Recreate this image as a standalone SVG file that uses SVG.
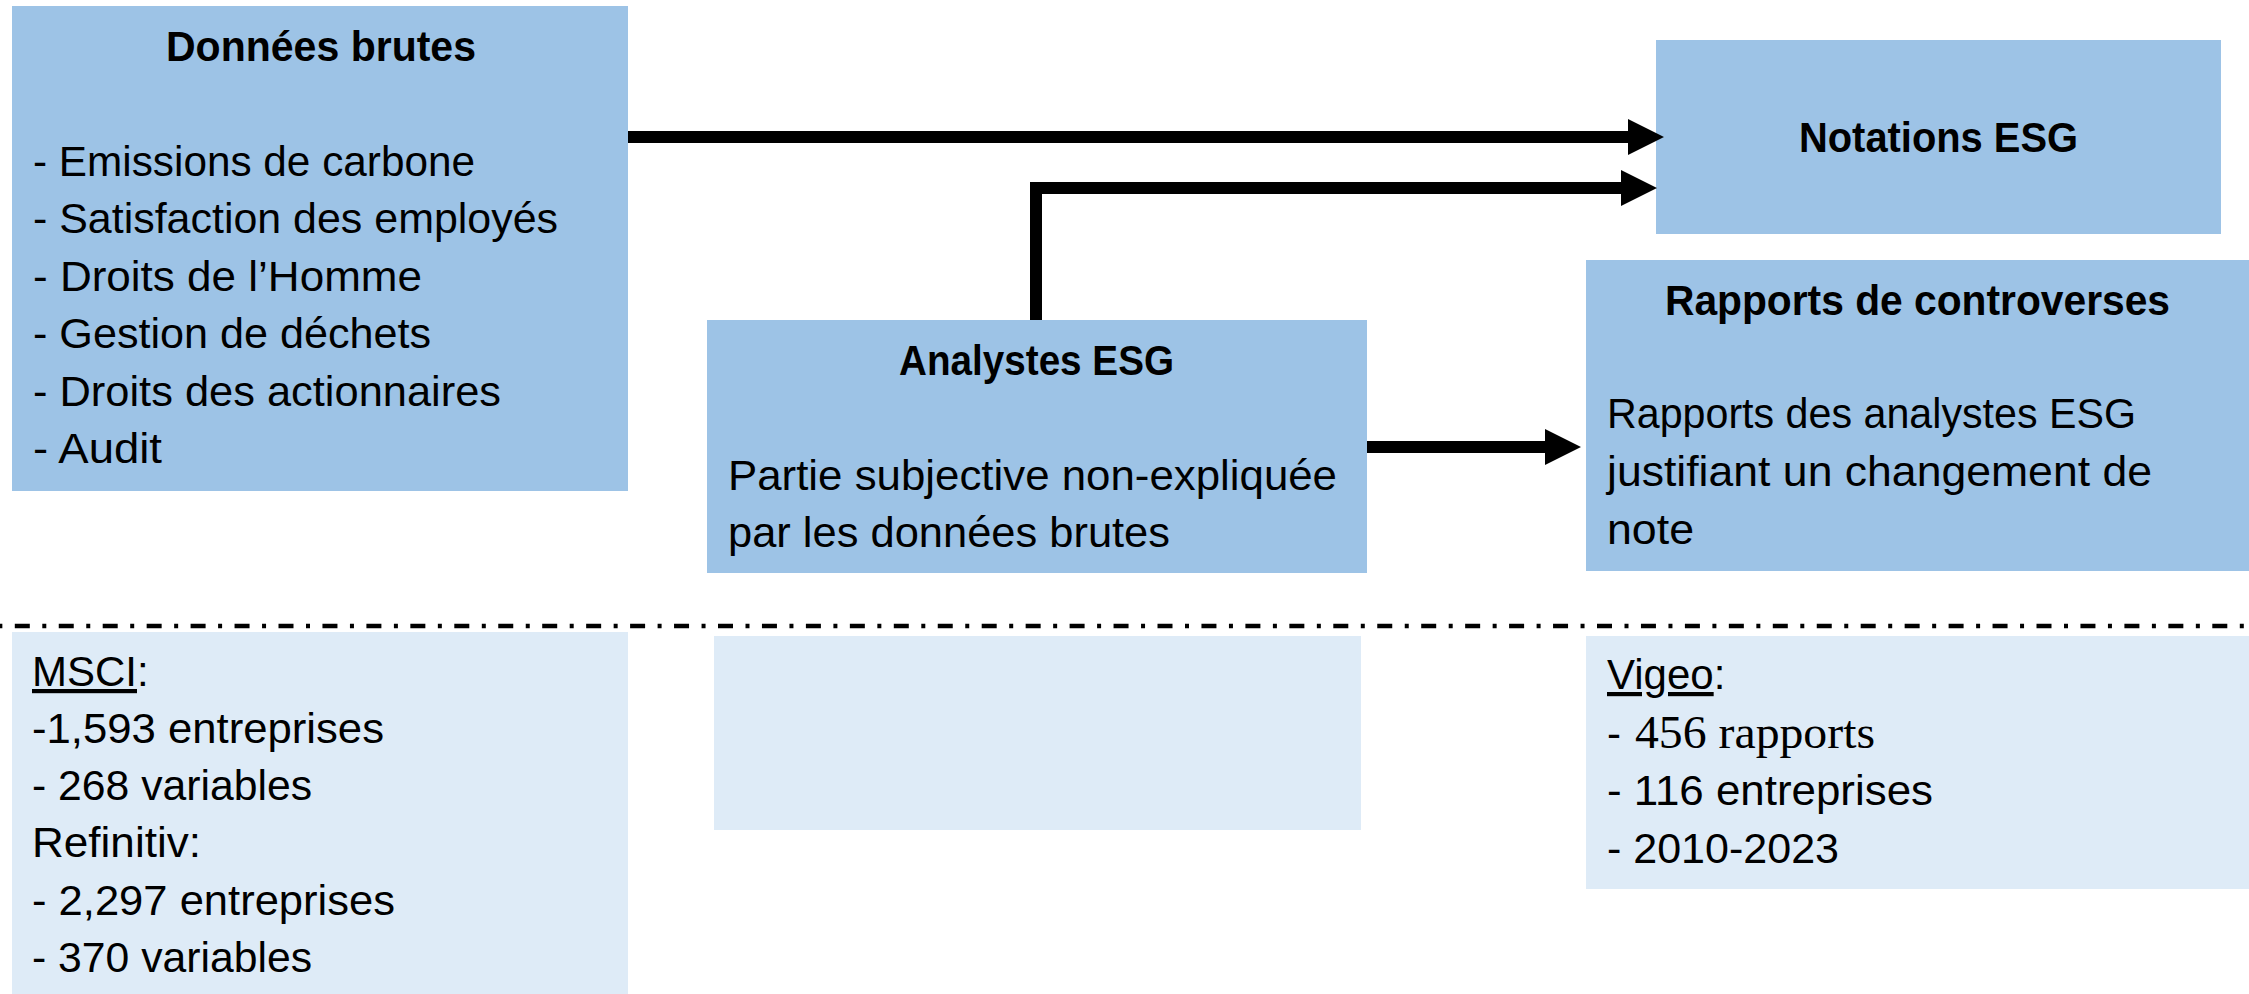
<svg xmlns="http://www.w3.org/2000/svg" width="2249" height="994" viewBox="0 0 2249 994">
  <style>
    .box { fill: #9DC3E6; }
    .box-light { fill: #DEEBF7; }
    text { font-family: "Liberation Sans", Arial, sans-serif; font-size: 42px; fill: #000; }
    .title { font-weight: bold; text-anchor: middle; }
    .serif { font-family: "Liberation Serif", "Times New Roman", serif; font-size: 46px; }
    .conn { fill: none; stroke: #000; stroke-width: 12; stroke-linejoin: miter; stroke-linecap: butt; marker-end: url(#head); }
    .sep { stroke: #000; stroke-width: 4.5; stroke-dasharray: 15 12.5 4 12.45; stroke-dashoffset: 29.15; }
  </style>
  <defs>
    <marker id="head" markerUnits="userSpaceOnUse" markerWidth="36" markerHeight="36" viewBox="0 0 35 35" refX="1" refY="17.5" orient="auto">
      <path d="M0,0 L35,17.5 L0,35 Z" fill="#000"/>
    </marker>
  </defs>

  <rect width="2249" height="994" fill="#FFFFFF"/>

  <!-- upper row -->
  <g id="node-donnees">
    <rect class="box" x="12" y="6" width="616" height="485"/>
    <text class="title" x="321" y="61" textLength="310" lengthAdjust="spacingAndGlyphs">Données brutes</text>
    <text x="33" y="176" textLength="442" lengthAdjust="spacingAndGlyphs">- Emissions de carbone</text>
    <text x="33" y="233" textLength="525" lengthAdjust="spacingAndGlyphs">- Satisfaction des employés</text>
    <text x="33" y="291" textLength="389" lengthAdjust="spacingAndGlyphs">- Droits de l’Homme</text>
    <text x="33" y="348" textLength="398" lengthAdjust="spacingAndGlyphs">- Gestion de déchets</text>
    <text x="33" y="406" textLength="468" lengthAdjust="spacingAndGlyphs">- Droits des actionnaires</text>
    <text x="33" y="463" textLength="129" lengthAdjust="spacingAndGlyphs">- Audit</text>
  </g>

  <g id="node-notations">
    <rect class="box" x="1656" y="40" width="565" height="194"/>
    <text class="title" x="1938.5" y="152" textLength="279" lengthAdjust="spacingAndGlyphs">Notations ESG</text>
  </g>

  <g id="node-analystes">
    <rect class="box" x="707" y="320" width="660" height="253"/>
    <text class="title" x="1036.5" y="375" textLength="275" lengthAdjust="spacingAndGlyphs">Analystes ESG</text>
    <text x="728" y="490" textLength="609" lengthAdjust="spacingAndGlyphs">Partie subjective non-expliquée</text>
    <text x="728" y="547" textLength="442" lengthAdjust="spacingAndGlyphs">par les données brutes</text>
  </g>

  <g id="node-rapports">
    <rect class="box" x="1586" y="260" width="663" height="311"/>
    <text class="title" x="1917.5" y="315" textLength="505" lengthAdjust="spacingAndGlyphs">Rapports de controverses</text>
    <text x="1607" y="428" textLength="529" lengthAdjust="spacingAndGlyphs">Rapports des analystes ESG</text>
    <text x="1607" y="486" textLength="545" lengthAdjust="spacingAndGlyphs">justifiant un changement de</text>
    <text x="1607" y="544" textLength="87" lengthAdjust="spacingAndGlyphs">note</text>
  </g>

  <!-- connectors -->
  <g id="connectors">
    <path class="conn" d="M628,137 H1629"/>
    <path class="conn" d="M1036,320 V188 H1622"/>
    <path class="conn" d="M1367,447 H1546"/>
  </g>

  <!-- separator between model and data sources -->
  <line class="sep" x1="0" y1="626" x2="2249" y2="626"/>

  <!-- lower row: data sources -->
  <g id="node-msci">
    <rect class="box-light" x="12" y="632" width="616" height="362"/>
    <text x="32" y="686"><tspan text-decoration="underline">MSCI</tspan>:</text>
    <text x="32" y="743" textLength="352" lengthAdjust="spacingAndGlyphs">-1,593 entreprises</text>
    <text x="32" y="800" textLength="280" lengthAdjust="spacingAndGlyphs">- 268 variables</text>
    <text x="32" y="857" textLength="169" lengthAdjust="spacingAndGlyphs">Refinitiv:</text>
    <text x="32" y="915" textLength="363" lengthAdjust="spacingAndGlyphs">- 2,297 entreprises</text>
    <text x="32" y="972" textLength="280" lengthAdjust="spacingAndGlyphs">- 370 variables</text>
  </g>

  <g id="node-middle">
    <rect class="box-light" x="714" y="636" width="647" height="194"/>
  </g>

  <g id="node-vigeo">
    <rect class="box-light" x="1586" y="636" width="663" height="253"/>
    <text x="1607" y="689"><tspan text-decoration="underline">Vigeo</tspan>:</text>
    <text x="1607" y="748">- </text>
    <text class="serif" x="1635" y="748" textLength="240" lengthAdjust="spacingAndGlyphs">456 rapports</text>
    <text x="1607" y="805" textLength="326" lengthAdjust="spacingAndGlyphs">- 116 entreprises</text>
    <text x="1607" y="863" textLength="232" lengthAdjust="spacingAndGlyphs">- 2010-2023</text>
  </g>
</svg>
